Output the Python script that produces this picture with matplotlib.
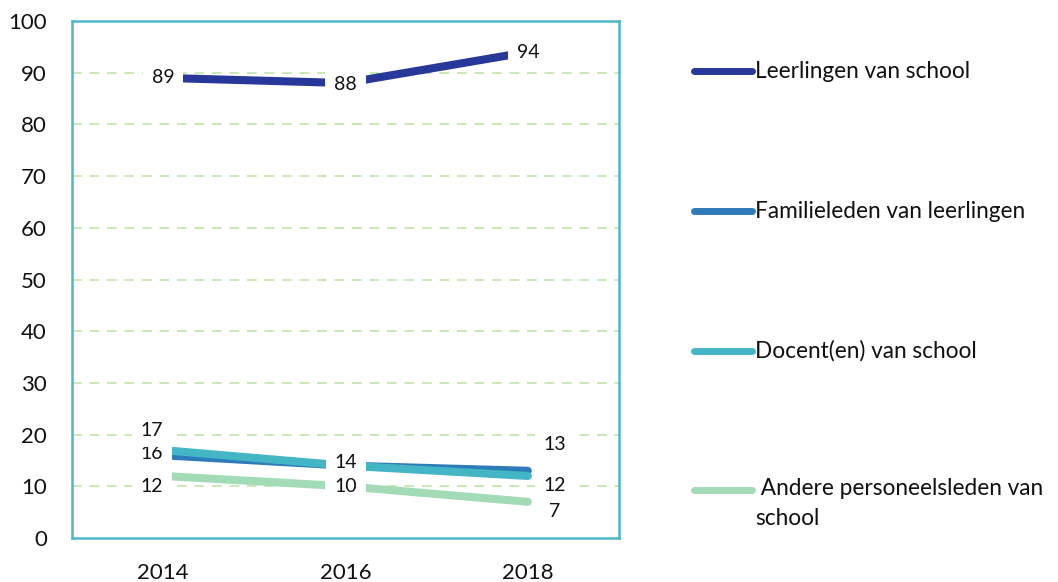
import numpy as np
import matplotlib
matplotlib.use("Agg")
import matplotlib.pyplot as plt
from matplotlib.lines import Line2D

plt.rcParams['font.family'] = ['Lato', 'DejaVu Sans']

years = ["2014", "2016", "2018"]
series_names = ["Leerlingen van school", "Familieleden van leerlingen",
                "Docent(en) van school", " Andere personeelsleden van\nschool"]
leerlingen = [89, 88, 94]
familieleden = [16, 14, 13]
docenten = [17, 14, 12]
andere = [12, 10, 7]
yticks = [0, 10, 20, 30, 40, 50, 60, 70, 80, 90, 100]

series = [leerlingen, familieleden, docenten, andere]
colors = ["#27379A", "#2E7BB9", "#44B5C4", "#A3DBB7"]

# label offsets in pixels (dx, dy-up) per series per point -- style only
px = 72 / 100
offsets = [
    [(0, 0), (0, -1), (0, 0)],
    [(-11, 2), (0, 3), (27, 26)],
    [(-11, 20), (0, 3), (27, -10)],
    [(-11, -11), (0, 0), (27, -10)],
]

fig = plt.figure(figsize=(10.58, 5.82), dpi=100)
ax = fig.add_axes([72 / 1058, 44 / 582, 547 / 1058, 517 / 582])

x = np.arange(len(years))
for vals, col in zip(series, colors):
    ax.plot(x, vals, color=col, lw=5.8, solid_capstyle='round', zorder=3)

for vals, offs in zip(series, offsets):
    for xi, v, (dx, dy) in zip(x, vals, offs):
        ax.annotate(f"{v}", (xi, v), xytext=(dx * px, dy * px), textcoords='offset points',
                    ha='center', va='center', fontsize=14, color='#111111', zorder=5,
                    bbox=dict(boxstyle='square,pad=0.45', fc='white', ec='none'))

ax.set_xlim(-0.5, len(years) - 0.5)
ax.set_ylim(0, 100)
ax.set_xticks(x)
ax.set_xticklabels(years)
ax.set_yticks(yticks)
ax.tick_params(axis='both', length=0, labelsize=16, pad=18, colors='#111111')
ax.tick_params(axis='y', pad=18)
for yv in yticks[1:-1]:
    ax.axhline(yv, color='#C8EAB6', lw=1.4, dashes=(5, 4), zorder=1)
for s in ax.spines.values():
    s.set_color('#4AB8C7')
    s.set_linewidth(1.8)

# manual legend at right
W, H = 1058, 582
leg_y = [71, 211, 351, 490]
for name, col, yy in zip(series_names, colors, leg_y):
    yf = 1 - yy / H
    fig.add_artist(Line2D([694 / W, 752 / W], [yf, yf], transform=fig.transFigure,
                          color=col, lw=5, solid_capstyle='round'))
    if "\n" in name:
        fig.text(755 / W, 1 - (yy - 12) / H, name, ha='left', va='top', fontsize=16.3,
                 color='#111111', linespacing=1.55)
    else:
        fig.text(755 / W, yf, name, ha='left', va='center', fontsize=16.3, color='#111111')

fig.savefig("out.png", dpi=100)
